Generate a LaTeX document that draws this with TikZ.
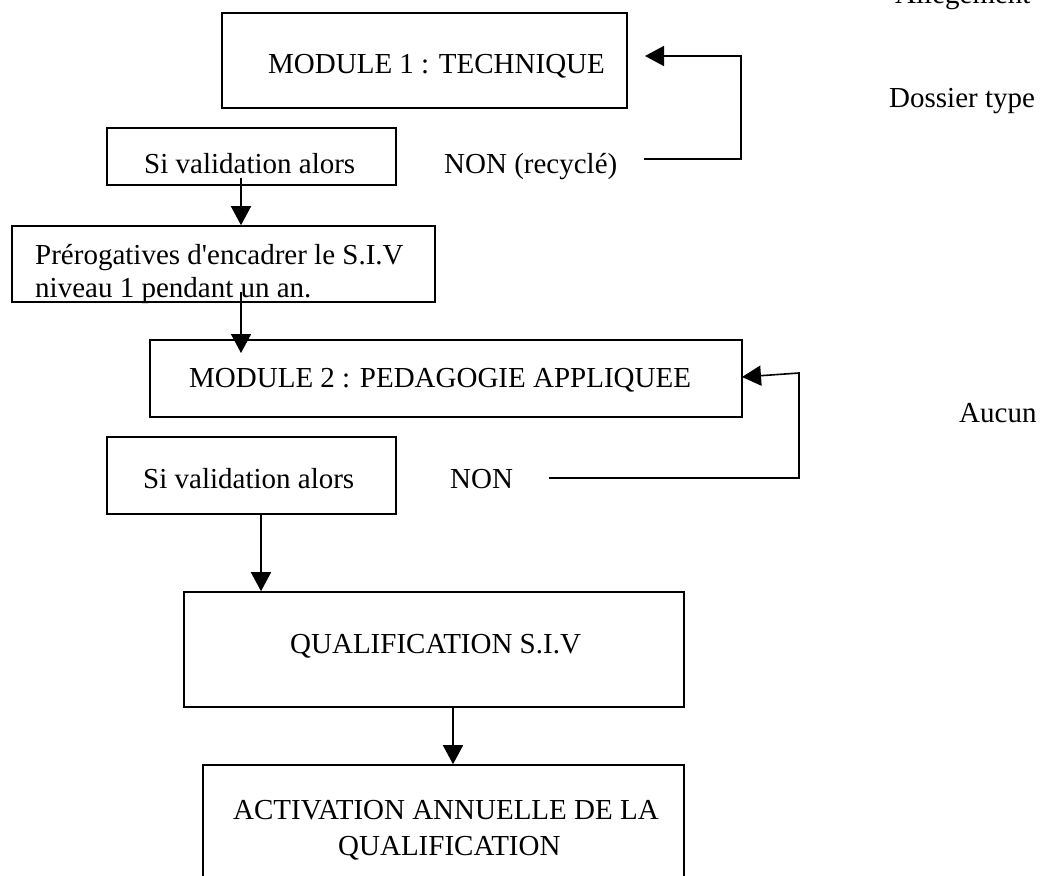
\documentclass[tikz,border=0pt]{standalone}
\usepackage{fontspec}
\setmainfont{Liberation Serif}
\usetikzlibrary{arrows.meta}
\begin{document}
\begin{tikzpicture}[x=1pt,y=-1pt,
  box/.style={draw, line width=1.6pt, inner sep=0pt},
  txt/.style={anchor=base west, inner sep=0pt, font=\fontsize{29pt}{33pt}\selectfont},
  arr/.style={line width=1.6pt, -{Triangle[length=19pt,width=20pt]}},
  ln/.style={line width=1.6pt}]
\clip (0,0) rectangle (1040,875);
\fill[white] (0,0) rectangle (1040,875);
% boxes
\node[box, minimum width=405pt, minimum height=95pt] (m1) at (424.5,60.5) {};
\node[box, minimum width=289pt, minimum height=57pt] (sv1) at (251.5,156.5) {};
\node[box, minimum width=423pt, minimum height=76pt] (pre) at (223.5,264) {};
\node[box, minimum width=592pt, minimum height=77pt] (m2) at (446,378.5) {};
\node[box, minimum width=289pt, minimum height=77pt] (sv2) at (251.5,475.5) {};
\node[box, minimum width=500pt, minimum height=115pt] (qual) at (434,649.5) {};
\node[box, minimum width=481pt, minimum height=125pt] (act) at (443.5,827.5) {};
% texts
\node[txt] (m1t) at (268,73) {MODULE 1 : TECHNIQUE};
\node[txt] (sv1t) at (144,173) {Si validation alors};
\node[txt] (non1) at (444,173) {NON (recyclé)};
\node[txt] (pre1) at (35,264) {Prérogatives d\textquotesingle encadrer le S.I.V};
\node[txt] (pre2) at (35,297) {niveau 1 pendant un an.};
\node[txt] (m2t) at (189,387) {MODULE 2 : PEDAGOGIE APPLIQUEE};
\node[txt] (sv2t) at (143,488) {Si validation alors};
\node[txt] (non2) at (450,488) {NON};
\node[txt] (qt) at (290,653) {QUALIFICATION S.I.V};
\node[txt] (act1) at (233,819) {ACTIVATION ANNUELLE DE LA};
\node[txt] (act2) at (338,855) {QUALIFICATION};
\node[txt] (alleg) at (895,4) {Allègement};
\node[txt] (doss) at (889,107) {Dossier type};
\node[txt] (aucun) at (959,422) {Aucun};
% connectors
\coordinate (c1) at (241,178);
\draw[arr] (c1) -- (c1 |- pre.north);
\coordinate (c2) at (241,292);
\coordinate (c2e) at (241,353);
\draw[arr] (c2) -- (c2e);
\coordinate (c3) at (261,514);
\draw[arr] (c3) -- (c3 |- qual.north);
\coordinate (c4) at (453,707);
\draw[arr] (c4) -- (c4 |- act.north);
% return loops
\coordinate (l1a) at (644,159);
\coordinate (l1b) at (741,159);
\coordinate (l1c) at (741,56);
\coordinate (l1d) at (645,56);
\draw[arr] (l1a) -- (l1b) -- (l1c) -- (l1d);
\coordinate (l2a) at (549,478);
\coordinate (l2b) at (799,478);
\coordinate (l2c) at (799,373);
\coordinate (l2d) at (742,377);
\draw[arr] (l2a) -- (l2b) -- (l2c) -- (l2d);
\end{tikzpicture}
\end{document}
